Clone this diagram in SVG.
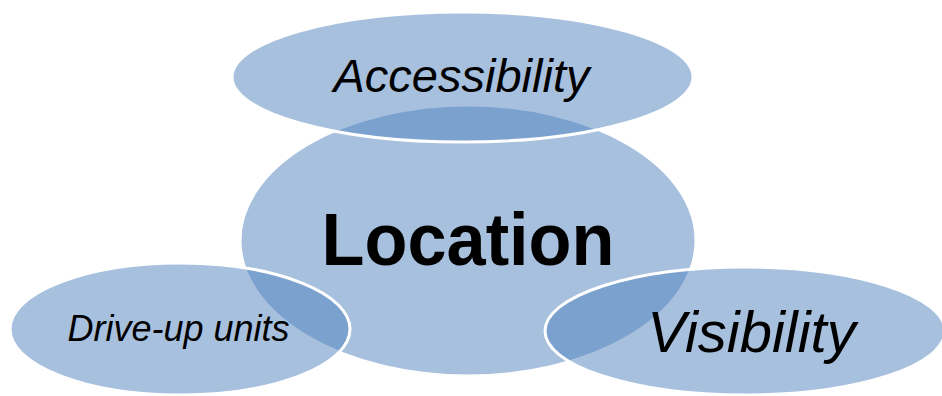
<svg xmlns="http://www.w3.org/2000/svg" width="942" height="396" viewBox="0 0 942 396">
<style>
.bub{fill:#4F81BD;fill-opacity:0.5;stroke:#FFFFFF;stroke-width:3}
.t{font-family:"Liberation Sans",Arial,sans-serif;fill:#000;text-anchor:middle}
.it{font-style:italic}
</style>
<rect width="942" height="396" fill="#FFFFFF"/>
<g id="connectors"></g>
<g id="location">
<ellipse class="bub" cx="468" cy="240.5" rx="228" ry="135.5"/>
<text class="t" x="468" y="265" font-size="75" font-weight="bold" textLength="293" lengthAdjust="spacingAndGlyphs">Location</text>
</g>
<g id="accessibility">
<ellipse class="bub" cx="462.5" cy="77" rx="230.5" ry="65"/>
<text class="t it" x="461.5" y="92" font-size="47">Accessibility</text>
</g>
<g id="driveup">
<ellipse class="bub" cx="180" cy="329" rx="170" ry="66"/>
<text class="t it" x="178.5" y="341" font-size="36">Drive-up units</text>
</g>
<g id="visibility">
<ellipse class="bub" cx="745" cy="331" rx="200" ry="64"/>
<text class="t it" x="751.5" y="352" font-size="58">Visibility</text>
</g>
</svg>
